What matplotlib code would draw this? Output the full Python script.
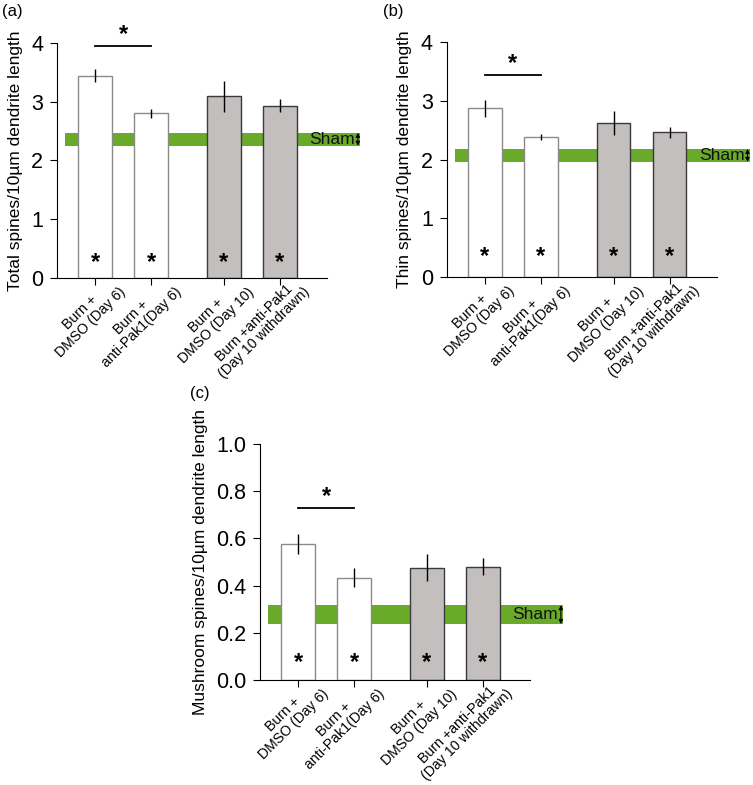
import matplotlib
matplotlib.use('Agg')
import matplotlib.pyplot as plt
from matplotlib.transforms import ScaledTranslation, blended_transform_factory

plt.rcParams['font.family'] = ['Liberation Sans', 'DejaVu Sans']

groups = ['Burn +\nDMSO (Day 6)', 'Burn +\nanti-Pak1(Day 6)',
          'Burn +\nDMSO (Day 10)', 'Burn +anti-Pak1\n(Day 10 withdrawn)']
positions = [0, 1, 2.3, 3.3]

total_mean = [3.44, 2.80, 3.09, 2.93]
total_err = [0.11, 0.07, 0.26, 0.11]
total_sham = [2.36, 0.11]

thin_mean = [2.87, 2.38, 2.62, 2.46]
thin_err = [0.14, 0.05, 0.21, 0.09]
thin_sham = [2.07, 0.11]

mush_mean = [0.576, 0.434, 0.476, 0.480]
mush_err = [0.044, 0.040, 0.058, 0.036]
mush_sham = [0.277, 0.040]

face_colors = ['white', 'white', '#c4bfbf', '#c4bfbf']
edge_colors = ['#8a8a8a', '#8a8a8a', '#3a3a3a', '#3a3a3a']
green = '#6aaa2a'

fig = plt.figure(figsize=(7.53, 7.85), dpi=100)


def panel(rect, means, errs, sham, ymax, ystep, yfmt, ylabel, letter, sig_y, star_y, letter_xy):
    ax = fig.add_axes(rect)
    # sham band sits behind the bars and runs past the axis end
    ax.fill_between([-0.54, 4.73], sham[0] - sham[1], sham[0] + sham[1],
                    color=green, lw=0, zorder=0, clip_on=False)
    ax.bar(positions, means, width=0.6, color=face_colors, edgecolor=edge_colors,
           linewidth=1.0, zorder=2)
    ax.errorbar(positions, means, yerr=errs, fmt='none', ecolor='black',
                elinewidth=1.0, capsize=0, zorder=3)
    for p in positions:
        ax.text(p, star_y, '*', ha='center', va='center', fontsize=17,
                fontweight='bold', zorder=4)
    ax.plot([positions[0], positions[1]], [sig_y, sig_y], color='black', lw=1.3,
            clip_on=False)
    ax.text((positions[0] + positions[1]) / 2, sig_y, '*', ha='center', va='bottom',
            fontsize=17, fontweight='bold')
    ax.text(4.64, sham[0], 'Sham', ha='right', va='center', fontsize=12.5,
            color='#111111', zorder=4, clip_on=False)
    ax.annotate('', xy=(4.69, sham[0] + sham[1]), xytext=(4.69, sham[0] - sham[1]),
                arrowprops=dict(arrowstyle='<|-|>', color='black', lw=0.8,
                                mutation_scale=6, shrinkA=0, shrinkB=0),
                annotation_clip=False)
    ax.set_xlim(-0.68, 4.14)
    ax.set_ylim(0, ymax)
    ticks = [i * ystep for i in range(int(round(ymax / ystep)) + 1)]
    ax.set_yticks(ticks)
    ax.set_yticklabels([yfmt.format(t) for t in ticks], fontsize=15.5)
    ax.set_xticks(positions)
    ax.set_xticklabels([])
    # rotated two-line group labels, placed by hand next to each tick
    trans = blended_transform_factory(ax.transData, ax.transAxes) + \
        ScaledTranslation(0.23, -0.07, fig.dpi_scale_trans)
    for p, g in zip(positions, groups):
        ax.text(p, 0, g, transform=trans, rotation=45, rotation_mode='anchor',
                ha='right', va='center', multialignment='center', fontsize=10.2,
                linespacing=1.0)
    ax.tick_params(axis='x', length=5, direction='out')
    ax.tick_params(axis='y', length=5, direction='out', pad=5)
    for s in ['top', 'right']:
        ax.spines[s].set_visible(False)
    ax.set_ylabel(ylabel, fontsize=12.5, labelpad=6)
    fig.text(letter_xy[0], letter_xy[1], letter, fontsize=12, ha='left', va='top')
    return ax


panel([0.0757, 0.6459, 0.3586, 0.2994], total_mean, total_err, total_sham,
      4, 1, '{:.0f}', 'Total spines/10\u00b5m dendrite length', '(a)', 3.94, 0.27,
      (0.002, 0.995))
panel([0.5932, 0.6471, 0.3586, 0.2994], thin_mean, thin_err, thin_sham,
      4, 1, '{:.0f}', 'Thin spines/10\u00b5m dendrite length', '(b)', 3.43, 0.35,
      (0.508, 0.995))
panel([0.3453, 0.1338, 0.3586, 0.3006], mush_mean, mush_err, mush_sham,
      1.0, 0.2, '{:.1f}', 'Mushroom spines/10\u00b5m dendrite length', '(c)', 0.727, 0.073,
      (0.252, 0.508))

fig.savefig('out.png', dpi=100)
